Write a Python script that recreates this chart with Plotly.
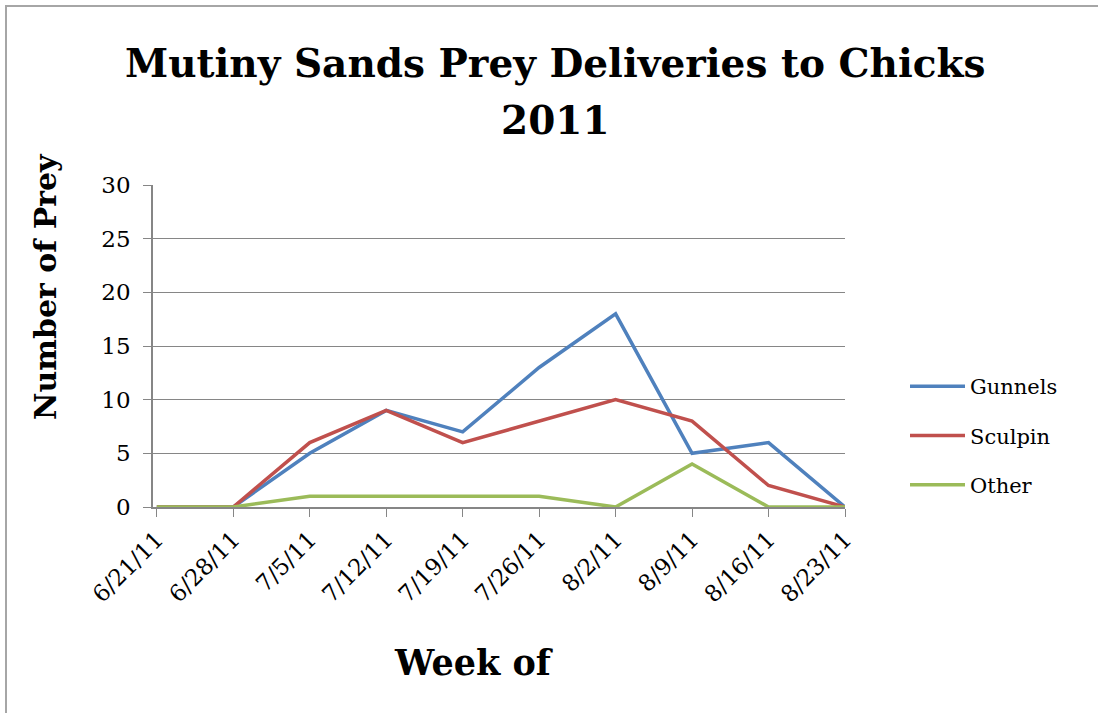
import plotly.graph_objects as go

weeks = ["6/21/11", "6/28/11", "7/5/11", "7/12/11", "7/19/11", "7/26/11",
         "8/2/11", "8/9/11", "8/16/11", "8/23/11"]
gunnels = [0, 0, 5, 9, 7, 13, 18, 5, 6, 0]
sculpin = [0, 0, 6, 9, 6, 8, 10, 8, 2, 0]
other = [0, 0, 1, 1, 1, 1, 0, 4, 0, 0]
y_ticks = [0, 5, 10, 15, 20, 25, 30]

series = [("Gunnels", gunnels, "#4F81BD"),
          ("Sculpin", sculpin, "#C0504D"),
          ("Other", other, "#9BBB59")]

FONT = "DejaVu Serif"
W, H = 1098, 713
L, R, T, B = 153, 845, 185, 507  # plot area pixels

fig = go.Figure()
xs = list(range(len(weeks)))
for i, (name, vals, col) in enumerate(series):
    fig.add_trace(go.Scatter(x=xs, y=vals, mode="lines", name=name,
                             legendgroup=name,
                             line=dict(color=col, width=3.5)))

def px_x(p):
    return (p - L) / (R - L)

def px_y(p):
    return (B - p) / (B - T)

fig.update_layout(
    width=W, height=H,
    margin=dict(l=L, r=W - R, t=T, b=H - B, pad=0),
    paper_bgcolor="white", plot_bgcolor="white",
    font=dict(family=FONT, color="black", size=21),
    showlegend=True,
    legend=dict(x=px_x(905), y=px_y(366), xanchor="left", yanchor="top",
                font=dict(family=FONT, size=21), tracegroupgap=19,
                itemwidth=55,
                bgcolor="rgba(0,0,0,0)"),
    xaxis=dict(range=[-0.05, 9.0], tickmode="array", tickvals=xs, ticktext=weeks,
               tickangle=-45, showgrid=False, zeroline=False,
               showline=True, linecolor="#868686", linewidth=1.5,
               ticks="outside", ticklen=8, tickcolor="#868686",
               tickfont=dict(family=FONT, size=23)),
    yaxis=dict(range=[0, 30], tickmode="array", tickvals=y_ticks,
               showgrid=True, gridcolor="#868686", gridwidth=1.2,
               zeroline=False, showline=True, linecolor="#868686", linewidth=1.5,
               ticks="outside", ticklen=8, tickcolor="#868686",
               ticklabelstandoff=8,
               tickfont=dict(family=FONT, size=23)),
    annotations=[
        dict(text="<b>Mutiny Sands Prey Deliveries to Chicks</b>",
             x=px_x(555), y=px_y(63), xref="paper", yref="paper",
             showarrow=False, xanchor="center", yanchor="middle",
             font=dict(family=FONT, size=39), align="center"),
        dict(text="<b>2011</b>",
             x=px_x(555), y=px_y(120), xref="paper", yref="paper",
             showarrow=False, xanchor="center", yanchor="middle",
             font=dict(family=FONT, size=39), align="center"),
        dict(text="<b>Number of Prey</b>", textangle=-90,
             x=px_x(45), y=px_y(287), xref="paper", yref="paper",
             showarrow=False, xanchor="center", yanchor="middle",
             font=dict(family=FONT, size=30)),
        dict(text="<b>Week of</b>",
             x=px_x(473), y=px_y(662), xref="paper", yref="paper",
             showarrow=False, xanchor="center", yanchor="middle",
             font=dict(family=FONT, size=35)),
    ],
    shapes=[dict(type="rect", xref="paper", yref="paper",
                 x0=px_x(6), x1=px_x(1120), y0=px_y(740), y1=px_y(6),
                 line=dict(color="#A6A6A6", width=2), layer="below")],
)

fig.write_html("out.html")
